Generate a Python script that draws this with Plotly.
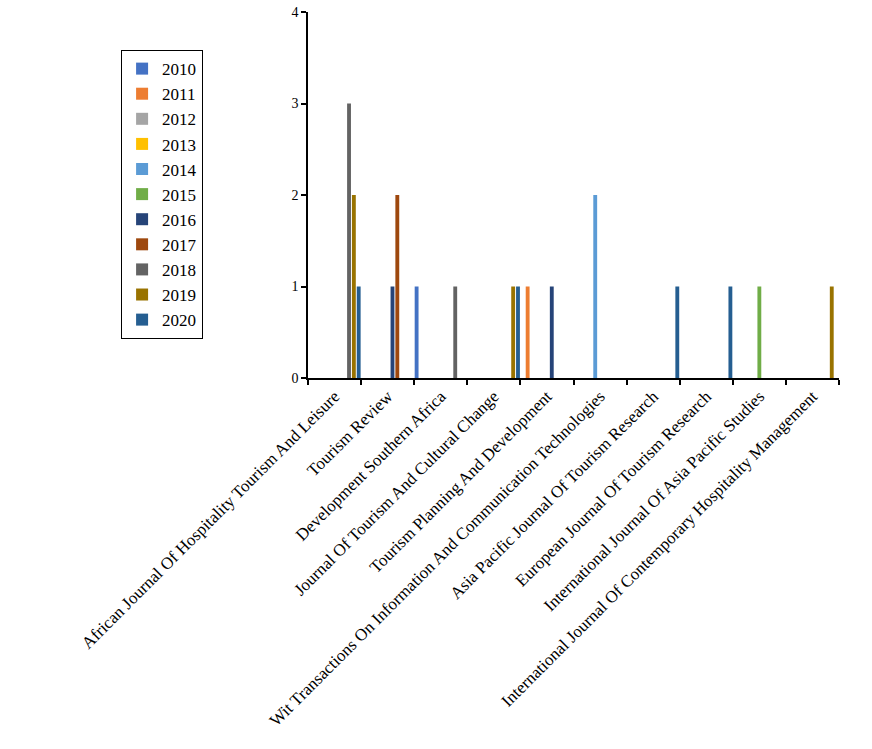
import plotly.graph_objects as go

# journals on the x axis
journals = [
    "African Journal Of Hospitality Tourism And Leisure",
    "Tourism Review",
    "Development Southern Africa",
    "Journal Of Tourism And Cultural Change",
    "Tourism Planning And Development",
    "Wit Transactions On Information And Communication Technologies",
    "Asia Pacific Journal Of Tourism Research",
    "European Journal Of Tourism Research",
    "International Journal Of Asia Pacific Studies",
    "International Journal Of Contemporary Hospitality Management",
]

years = ["2010", "2011", "2012", "2013", "2014", "2015",
         "2016", "2017", "2018", "2019", "2020"]

# publications per journal, one list per year (None = no bar)
y2010 = [None, None, 1, None, None, None, None, None, None, None]
y2011 = [None, None, None, None, 1, None, None, None, None, None]
y2012 = [None, None, None, None, None, None, None, None, None, None]
y2013 = [None, None, None, None, None, None, None, None, None, None]
y2014 = [None, None, None, None, None, 2, None, None, None, None]
y2015 = [None, None, None, None, None, None, None, None, 1, None]
y2016 = [None, 1, None, None, 1, None, None, None, None, None]
y2017 = [None, 2, None, None, None, None, None, None, None, None]
y2018 = [3, None, 1, None, None, None, None, None, None, None]
y2019 = [2, None, None, 1, None, None, None, None, None, 1]
y2020 = [1, None, None, 1, None, None, 1, 1, None, None]

series = [y2010, y2011, y2012, y2013, y2014, y2015,
          y2016, y2017, y2018, y2019, y2020]

# office palette
colors = ["#4472C4", "#ED7D31", "#A5A5A5", "#FFC000", "#5B9BD5", "#70AD47",
          "#264478", "#9E480E", "#636363", "#997300", "#255E91"]

SERIF = "Liberation Serif"

fig = go.Figure()
for yr, vals, col in zip(years, series, colors):
    fig.add_trace(go.Bar(x=journals, y=vals, name=yr,
                         marker=dict(color=col, line=dict(width=0))))

fig.update_layout(
    width=872,
    height=749,
    autosize=False,
    barmode="group",
    bargap=0,
    bargroupgap=0.2,
    plot_bgcolor="white",
    paper_bgcolor="white",
    margin=dict(l=308, r=33, t=12, b=371, autoexpand=False),
    font=dict(family=SERIF, color="black"),
    legend=dict(
        x=-0.352, xanchor="left",
        y=0.896, yanchor="top",
        font=dict(family=SERIF, size=17, color="black"),
        bordercolor="black",
        borderwidth=1,
        bgcolor="white",
    ),
    xaxis=dict(
        type="category",
        range=[-0.5, 9.5],
        showline=True, linecolor="black", linewidth=1.5,
        ticks="outside", ticklen=5, tickcolor="black", tickwidth=1.5,
        tickson="boundaries",
        tickangle=-45,
        tickfont=dict(family=SERIF, size=17, color="black"),
        showgrid=False, zeroline=False,
        automargin=False,
    ),
    yaxis=dict(
        range=[0, 4],
        tickvals=[0, 1, 2, 3, 4],
        showline=True, linecolor="black", linewidth=1.5,
        ticks="outside", ticklen=5, tickcolor="black", tickwidth=1.5,
        tickfont=dict(family=SERIF, size=14, color="black"),
        ticklabeloverflow="allow",
        showgrid=False, zeroline=False,
        automargin=False,
    ),
)

# drop the default 8px body margin so the chart sits at the page corner
fig.write_html("out.html", config=dict(displayModeBar=False),
               post_script="document.body.style.margin='0';")
